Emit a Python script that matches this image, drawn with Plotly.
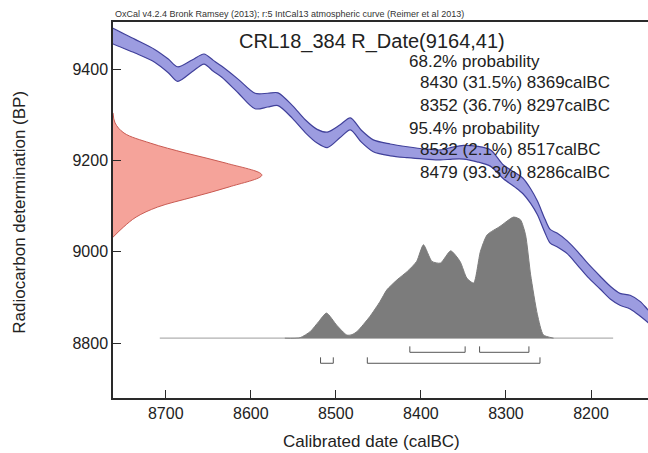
import plotly.graph_objects as go

# ---------------- data ----------------
# IntCal13 calibration curve: calendar date (calBC), radiocarbon age (BP), 1-sigma error
CURVE_DATE = [8770, 8762, 8736, 8713, 8697, 8686, 8669, 8655, 8644, 8634,
              8615, 8595, 8580, 8568, 8551, 8536, 8522, 8510, 8495, 8483,
              8470, 8456, 8436, 8416, 8395, 8377, 8363, 8350, 8334, 8318,
              8303, 8289, 8280, 8271, 8263, 8254, 8248, 8240, 8228, 8216,
              8204, 8189, 8177, 8166, 8154, 8142, 8133, 8125]
CURVE_BP = [9480, 9472, 9450, 9429, 9407, 9389, 9407, 9422, 9407, 9394,
            9363, 9330, 9332, 9334, 9306, 9275, 9253, 9245, 9264, 9280,
            9253, 9232, 9223, 9218, 9214, 9212, 9216, 9218, 9214, 9205,
            9175, 9157, 9144, 9122, 9096, 9056, 9034, 9026, 9010, 8986,
            8960, 8932, 8910, 8896, 8890, 8875, 8859, 8845]
CURVE_ERR = [17, 17, 15, 14, 15, 16, 13, 11, 12, 12,
             15, 17, 15, 14, 14, 14, 15, 17, 14, 13,
             13, 13, 13, 12, 11, 11, 13, 15, 17, 18,
             15, 16, 17, 16, 15, 15, 15, 15, 14, 15,
             15, 14, 14, 13, 15, 16, 14, 14]

# Radiocarbon measurement R_Date(9164,41): BP levels and relative probability
RED_BP = [9304, 9282, 9260, 9238, 9216, 9194, 9168, 9142, 9120, 9098, 9076, 9054, 9032]
RED_REL = [0, 0.014, 0.074, 0.25, 0.49, 0.76, 1.0, 0.78, 0.54, 0.30, 0.155, 0.07, 0]

# Calibrated probability distribution
DIST_DATE = [8560, 8542, 8530, 8520, 8511, 8499, 8487, 8481, 8475, 8460,
             8448, 8440, 8428, 8416, 8405, 8397, 8387, 8377, 8365, 8354,
             8346, 8338, 8330, 8322, 8307, 8291, 8283, 8277, 8271, 8263,
             8256, 8244]
DIST_PROB = [0, 0.004, 0.055, 0.138, 0.207, 0.107, 0.025, 0.029, 0.055, 0.179,
             0.303, 0.399, 0.482, 0.551, 0.634, 0.771, 0.634, 0.620, 0.721, 0.634,
             0.496, 0.455, 0.717, 0.854, 0.923, 1.0, 0.978, 0.854, 0.523, 0.193,
             0.027, 0]

# Range brackets (start, end) as drawn
RANGES_68 = [(8413, 8348), (8331, 8273)]
RANGES_95 = [(8518, 8503), (8463, 8260)]

X_TICKS = [8700, 8600, 8500, 8400, 8300, 8200]
Y_TICKS = [8800, 9000, 9200, 9400]

HEADER = "OxCal v4.2.4 Bronk Ramsey (2013); r:5 IntCal13 atmospheric curve (Reimer et al 2013)"
TITLE = "CRL18_384 R_Date(9164,41)"
PROB_LINES = [("68.2% probability", False),
              ("8430 (31.5%) 8369calBC", True),
              ("8352 (36.7%) 8297calBC", True),
              ("95.4% probability", False),
              ("8532 (2.1%) 8517calBC", True),
              ("8479 (93.3%) 8286calBC", True)]

# ---------------- layout constants ----------------
X_RANGE = [8762, 8133]
Y_RANGE = [8680, 9503]
RED_WIDTH = 175        # calendar years at peak
DIST_BASE = 8811       # BP level of distribution baseline
DIST_HEIGHT = 265      # BP height of distribution peak
BASELINE_SPAN = (8707, 8174)
ROW68 = 8780
ROW95 = 8756
BRACKET_TICK = 13
FONT = "Liberation Sans, Arial, sans-serif"

fig = go.Figure()

# red measurement distribution on the y-axis
red_x = [X_RANGE[0] - r * RED_WIDTH for r in RED_REL]
fig.add_trace(go.Scatter(x=red_x, y=RED_BP, mode="lines", fill="toself",
                         line=dict(color="#c95a52", width=1, shape="spline"),
                         fillcolor="#f5a39a", hoverinfo="skip"))

# baseline of calibrated distribution
fig.add_trace(go.Scatter(x=list(BASELINE_SPAN), y=[DIST_BASE, DIST_BASE], mode="lines",
                         line=dict(color="#b0b0b0", width=1.2), hoverinfo="skip"))

# calibrated distribution
dist_y = [DIST_BASE + p * DIST_HEIGHT for p in DIST_PROB]
fig.add_trace(go.Scatter(x=DIST_DATE, y=dist_y, mode="lines", fill="toself",
                         line=dict(color="#7c7c7c", width=1, shape="spline", smoothing=0.6),
                         fillcolor="#7c7c7c", hoverinfo="skip"))

# range brackets
for rows, level in ((RANGES_68, ROW68), (RANGES_95, ROW95)):
    for a, b in rows:
        fig.add_trace(go.Scatter(x=[a, a, b, b],
                                 y=[level + BRACKET_TICK, level, level, level + BRACKET_TICK],
                                 mode="lines", line=dict(color="#555555", width=1),
                                 hoverinfo="skip"))

# calibration curve band (upper edge then lower edge, each smoothed)
upper = [b + e for b, e in zip(CURVE_BP, CURVE_ERR)]
lower = [b - e for b, e in zip(CURVE_BP, CURVE_ERR)]
fig.add_trace(go.Scatter(x=CURVE_DATE, y=lower, mode="lines",
                         line=dict(color="#40409a", width=1.2, shape="spline", smoothing=0.8),
                         hoverinfo="skip"))
fig.add_trace(go.Scatter(x=CURVE_DATE, y=upper, mode="lines", fill="tonexty",
                         fillcolor="#9c9ce0",
                         line=dict(color="#40409a", width=1.2, shape="spline", smoothing=0.8),
                         hoverinfo="skip"))

annotations = []
annotations.append(dict(text=HEADER, x=0, y=1.003, xref="paper", yref="paper",
                        xanchor="left", yanchor="bottom", showarrow=False,
                        font=dict(family=FONT, size=9, color="#333333")))
annotations.append(dict(text=TITLE, x=0.484, y=0.947, xref="paper", yref="paper",
                        xanchor="center", yanchor="middle", showarrow=False,
                        font=dict(family=FONT, size=20, color="#222222")))
line_y = [0.894, 0.8378, 0.779, 0.718, 0.660, 0.601]
for (txt, indent), yy in zip(PROB_LINES, line_y):
    annotations.append(dict(text=txt, x=0.570 if indent else 0.5495, y=yy,
                            xref="paper", yref="paper", xanchor="left", yanchor="middle",
                            showarrow=False, font=dict(family=FONT, size=17, color="#222222")))
annotations.append(dict(text="Calibrated date (calBC)", x=0.484, y=-0.117,
                        xref="paper", yref="paper", xanchor="center", yanchor="middle",
                        showarrow=False, font=dict(family=FONT, size=17, color="#222222")))
annotations.append(dict(text="Radiocarbon determination (BP)", x=-0.174, y=0.495,
                        xref="paper", yref="paper", xanchor="center", yanchor="middle",
                        textangle=-90, showarrow=False,
                        font=dict(family=FONT, size=17, color="#222222")))

axis_common = dict(showgrid=False, zeroline=False, showline=True, linecolor="#2a2a2a",
                   linewidth=1.5, ticks="inside", ticklen=8, tickwidth=1.2,
                   tickcolor="#2a2a2a", tickfont=dict(family=FONT, size=16, color="#222222"))

fig.update_layout(
    width=648, height=453,
    margin=dict(l=113, r=0, t=22, b=55),
    paper_bgcolor="white", plot_bgcolor="white",
    showlegend=False,
    annotations=annotations,
    xaxis=dict(range=X_RANGE, tickvals=X_TICKS, mirror=True, **axis_common),
    yaxis=dict(range=Y_RANGE, tickvals=Y_TICKS, **axis_common),
)

fig.write_html("out.html")
